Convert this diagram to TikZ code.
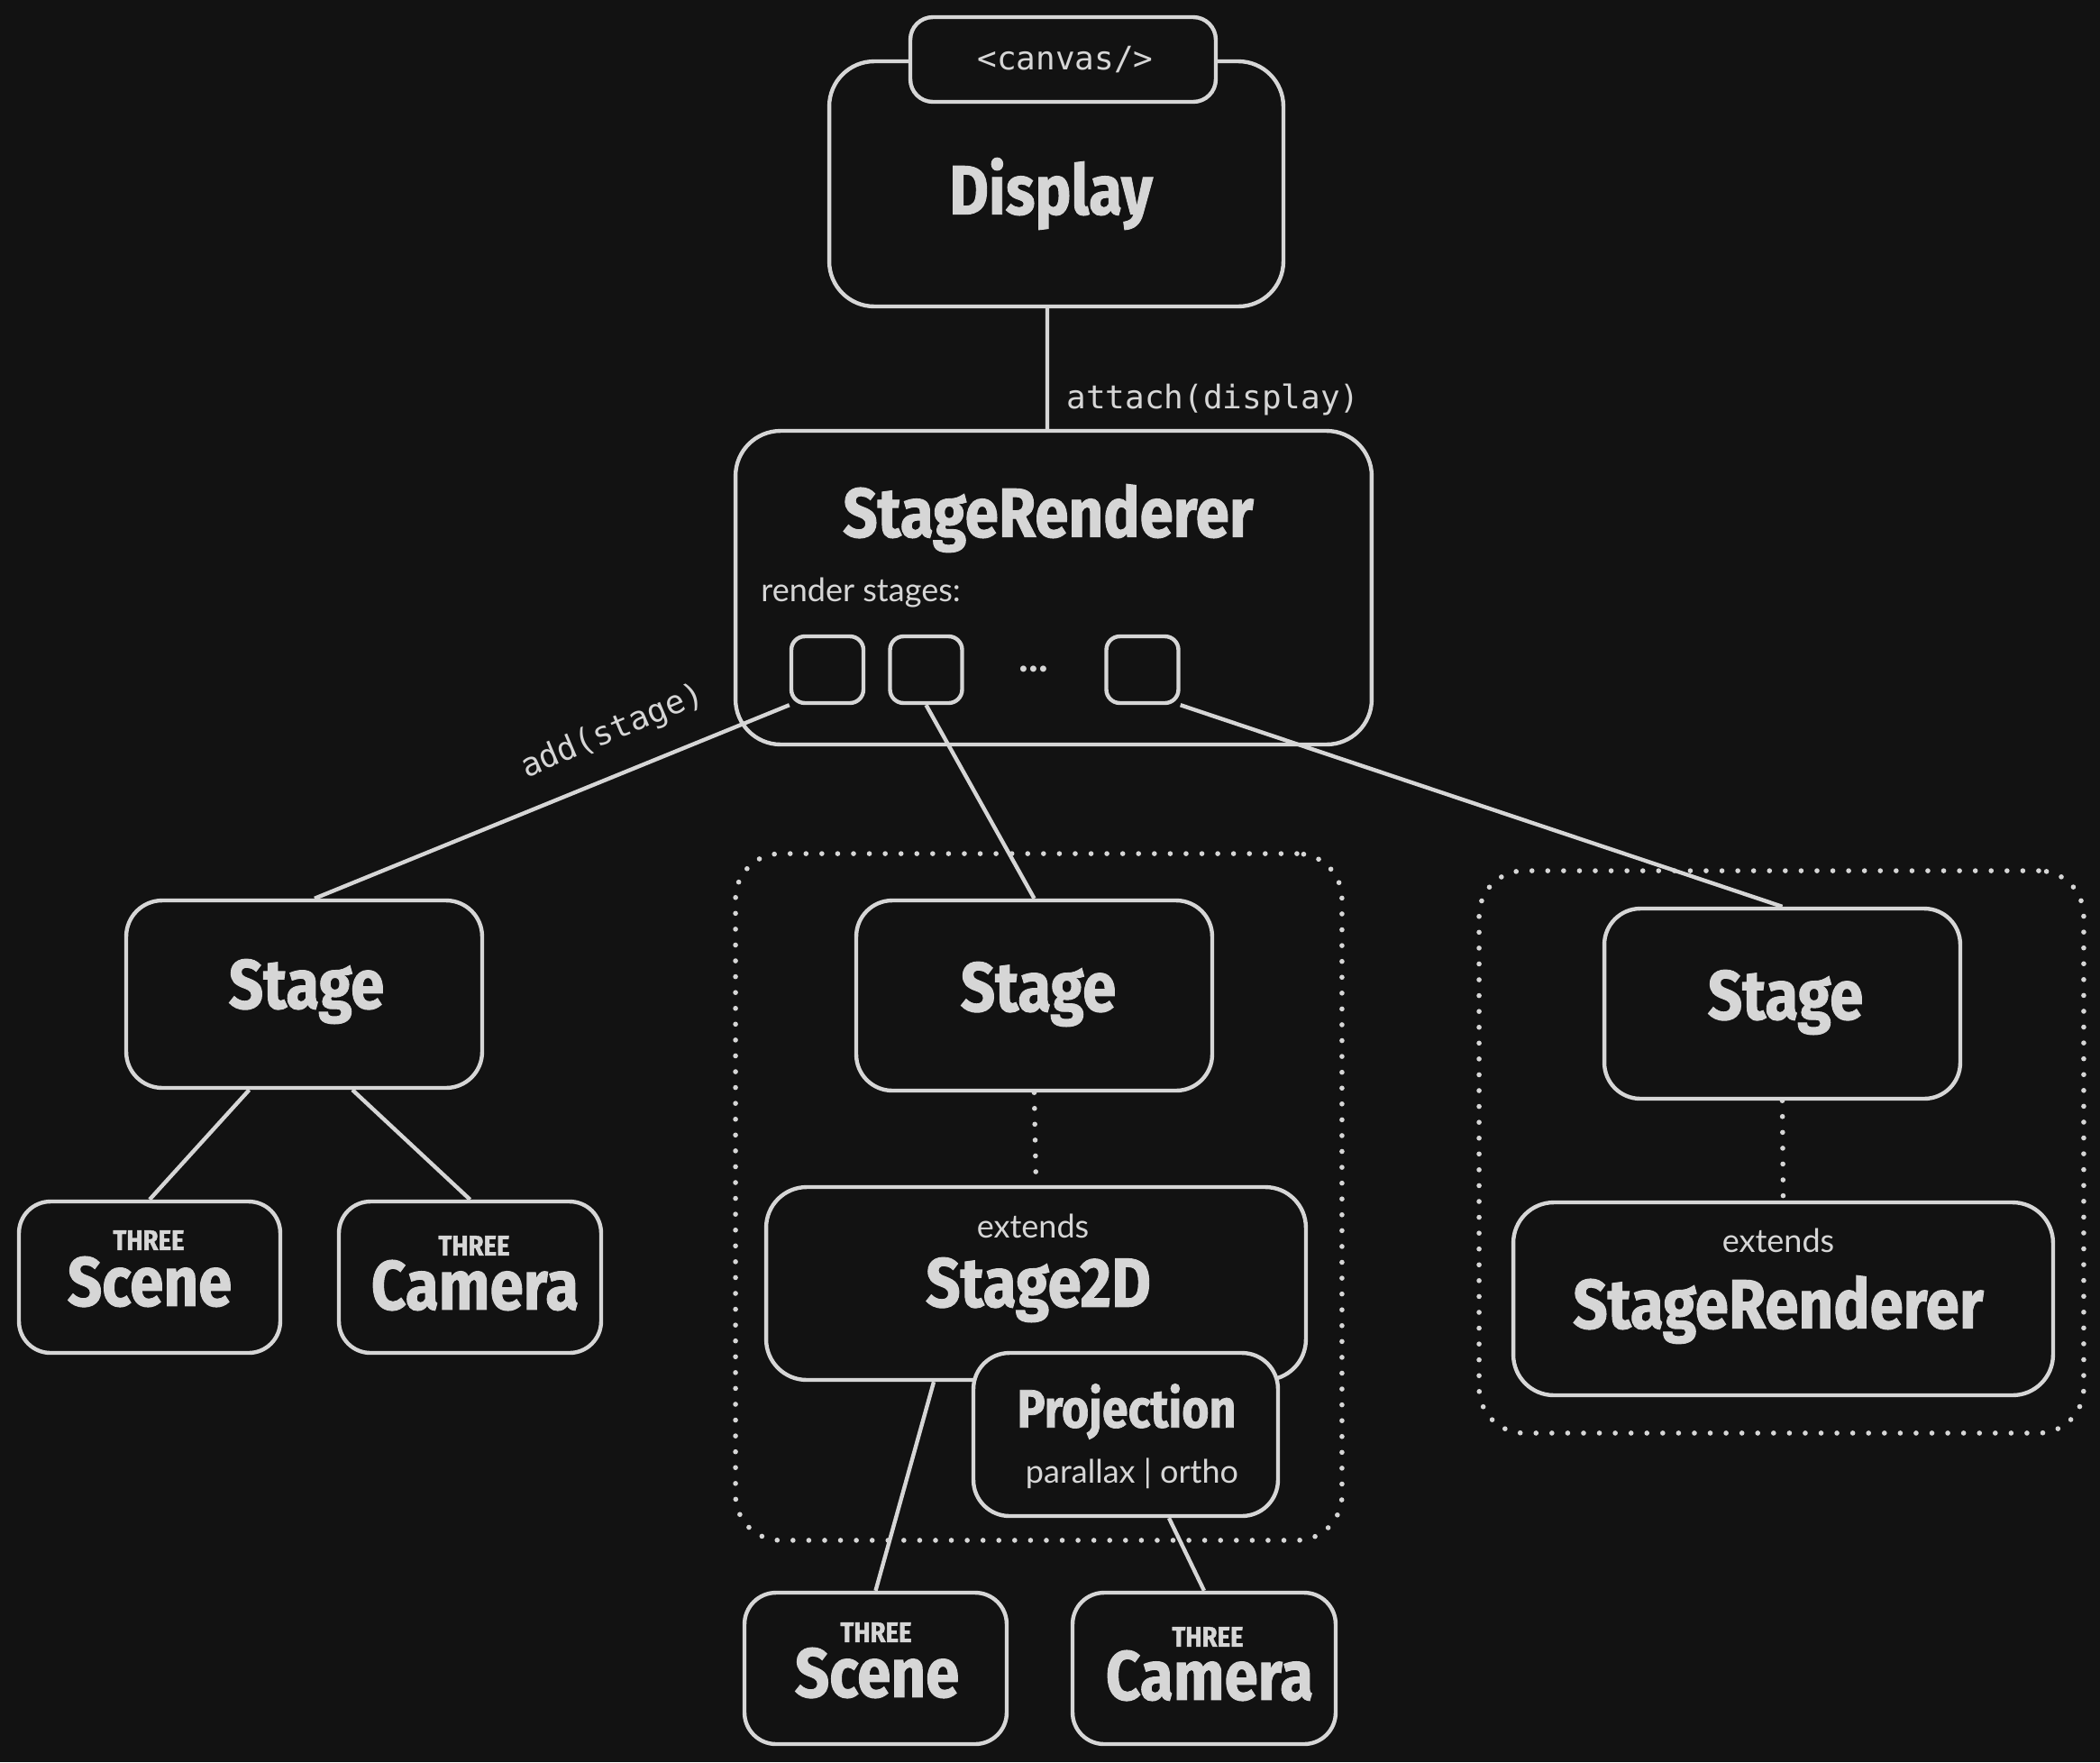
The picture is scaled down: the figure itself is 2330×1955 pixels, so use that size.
\documentclass[tikz,border=0pt]{standalone}
\usepackage{fontspec}
\setmainfont{Lato}
\newfontfamily\ttl[FakeStretch=0.87, FakeBold=1.2]{Fira Sans}
\newfontfamily\mono{DejaVu Sans Mono}
\definecolor{bg}{HTML}{121212}
\definecolor{ink}{HTML}{D6D6D6}
\tikzset{
  box/.style={draw=ink, fill=bg, line width=2.5pt, rounded corners=#1, inner sep=0pt},
  box/.default=0.8cm,
  grp/.style={draw=ink, line width=3.2pt, line cap=round, dash pattern=on 0pt off 10pt, rounded corners=1cm, inner sep=0pt},
  conn/.style={draw=ink, line width=2.5pt},
  dotconn/.style={draw=ink, line width=3.2pt, line cap=round, dash pattern=on 0pt off 10pt},
  title/.style={text=ink, font=\ttl\bfseries\fontsize{44}{48}\selectfont, inner sep=0pt},
  ptitle/.style={text=ink, font=\ttl\bfseries\fontsize{34}{38}\selectfont, inner sep=0pt},
  three/.style={text=ink, font=\ttl\bfseries\fontsize{18}{20}\selectfont, inner sep=0pt},
  hand/.style={text=ink, font=\fontsize{20.5}{24}\selectfont, inner sep=0pt},
  code/.style={text=ink, font=\mono\fontsize{20.5}{24}\selectfont, inner sep=0pt},
}
\begin{document}
\begin{tikzpicture}[x=0.02cm, y=-0.02cm]
\fill[bg] (0,0) rectangle (2330,1955);
\useasboundingbox (0,0) rectangle (2330,1955);

% groups
\node[grp, minimum width=13.46cm, minimum height=15.24cm] (groupM) at (1152.5,1328) {};
\node[grp, minimum width=13.42cm, minimum height=12.48cm] (groupR) at (1976.5,1278) {};

% boxes
\node[box=1cm, minimum width=10.08cm, minimum height=5.44cm] (display) at (1172,204) {};
\node[box=0.5cm, minimum width=6.78cm, minimum height=1.88cm] (tab) at (1179.5,66) {};
\node[box=1cm, minimum width=14.12cm, minimum height=6.96cm] (SR) at (1169,652) {};
\node[box=0.3cm, minimum width=1.6cm, minimum height=1.48cm] (sb1) at (918,743) {};
\node[box=0.3cm, minimum width=1.6cm, minimum height=1.48cm] (sb2) at (1027.5,743) {};
\node[box=0.3cm, minimum width=1.6cm, minimum height=1.48cm] (sb3) at (1267.5,743) {};

\node[box, minimum width=7.9cm, minimum height=4.16cm] (stageL) at (337.5,1103) {};
\node[box=0.7cm, minimum width=5.8cm, minimum height=3.36cm] (sceneL) at (166,1417) {};
\node[box=0.7cm, minimum width=5.82cm, minimum height=3.36cm] (cameraL) at (521.5,1417) {};

\node[box, minimum width=7.9cm, minimum height=4.22cm] (stageM) at (1147.5,1104.5) {};
\node[box=0.9cm, minimum width=11.98cm, minimum height=4.28cm] (s2d) at (1149.5,1424) {};
\node[box, minimum width=6.76cm, minimum height=3.62cm] (proj) at (1249,1591.5) {};
\node[box=0.7cm, minimum width=5.82cm, minimum height=3.36cm] (sceneM) at (971.5,1851) {};
\node[box=0.7cm, minimum width=5.84cm, minimum height=3.36cm] (cameraM) at (1336,1851) {};

\node[box, minimum width=7.9cm, minimum height=4.22cm] (stageR) at (1977.5,1113.5) {};
\node[box=0.9cm, minimum width=11.98cm, minimum height=4.28cm] (srR) at (1978.5,1441) {};

% connectors
\draw[conn] ([xshift=-0.2cm]display.south) -- ([xshift=-0.14cm]SR.north);
\draw[conn] (sb1.south west) -- ([xshift=0.23cm]stageL.north);
\draw[conn] (sb2.south) -- (stageM.north);
\draw[conn] (sb3.south east) -- (stageR.north);
\draw[conn] ([xshift=-1.22cm]stageL.south) -- (sceneL.north);
\draw[conn] ([xshift=1.07cm]stageL.south) -- (cameraL.north);
\draw[dotconn] (stageM.south) -- (s2d.north);
\draw[conn] ([xshift=-2.27cm]s2d.south) -- (sceneM.north);
\draw[conn] ([xshift=0.96cm]proj.south) -- (cameraM.north);
\draw[dotconn] (stageR.south) -- (srR.north);

% texts
\node[code] (tcanvas) at (1182,66) {<canvas/>};
\node[title] (tdisplay) at (1166,215) {Display};
\node[code, anchor=west] (tattach) at (1183,443) {attach(display)};
\node[title] (tSR) at (1163,575) {StageRenderer};
\node[hand, anchor=west] (trender) at (844,658) {render stages:};
\node[text=ink, font=\fontsize{26}{26}\selectfont\bfseries, inner sep=0pt] (tdots) at (1147,742) {...};
\node[code, rotate=23] (tadd) at (680,812) {add(stage)};

\node[title] (tstageL) at (340,1100) {Stage};
\node[three] (tthreeSL) at (165,1376) {THREE};
\node[title] (tsceneL) at (166,1422) {Scene};
\node[three] (tthreeCL) at (526,1382) {THREE};
\node[title] (tcameraL) at (527,1426) {Camera};

\node[title] (tstageM) at (1152,1103) {Stage};
\node[hand] (text1) at (1146,1360) {extends};
\node[title] (ts2d) at (1152,1431) {Stage2D};
\node[ptitle] (tproj) at (1250,1566) {Projection};
\node[hand] (tpar) at (1256,1635) {parallax | ortho};
\node[three] (tthreeSM) at (972,1811) {THREE};
\node[title] (tsceneM) at (973,1856) {Scene};
\node[three] (tthreeCM) at (1340,1816) {THREE};
\node[title] (tcameraM) at (1342,1859) {Camera};

\node[title] (tstageR) at (1981,1112) {Stage};
\node[hand] (text2) at (1973,1376) {extends};
\node[title] (tsrR) at (1973,1453) {StageRenderer};
\end{tikzpicture}
\end{document}
